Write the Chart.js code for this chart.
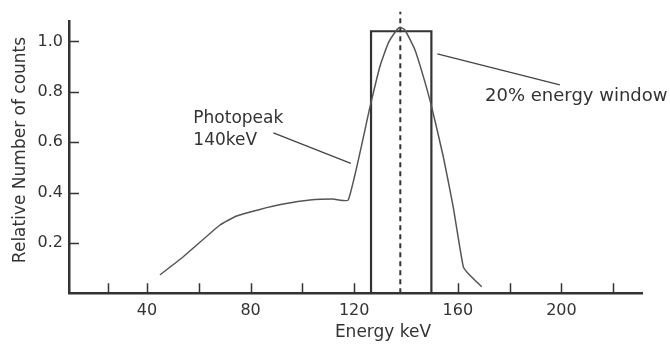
<!DOCTYPE html>
<html>
<head>
<meta charset="utf-8">
<script src="https://cdn.jsdelivr.net/npm/chart.js@4.4.1/dist/chart.umd.min.js"></script>
<style>
  html, body { margin: 0; padding: 0; background: #fff; }
  .wrap { position: relative; width: 670px; height: 347px; }
</style>
</head>
<body>
<div class="wrap">
  <canvas id="myChart"></canvas>
</div>
<script>
// spectrum (keV, relative counts)
const energies = [45, 54, 68.2, 74.6, 83.6, 92.6, 102.9, 111.9, 117.7, 126.1, 129.9, 133.1, 136.4, 137.7, 139.6, 143.5, 146.7, 149.9, 154.4, 158.2, 162.1, 164, 169.2];
const counts = [0.073, 0.145, 0.271, 0.307, 0.333, 0.354, 0.37, 0.374, 0.37, 0.74, 0.899, 0.992, 1.045, 1.056, 1.045, 0.965, 0.86, 0.74, 0.542, 0.344, 0.106, 0.079, 0.026];

// 20% energy window and photopeak marker
const windowEdges = [126.5, 149.8];
const windowTop = 1.04;
const peakEnergy = 137.8;
const peakLineTop = 1.117;

// axes
const xRange = [9.9, 231.3];
const yRange = [0, 1.078];
const xTickValues = [25, 40, 60, 80, 100, 120, 160, 180, 200, 220];
const xTickLabels = [40, 80, 120, 160, 200];
const yTickValues = [0.2, 0.4, 0.6, 0.8, 1.0];

// annotations: [keV, counts]
const photopeakText = ["Photopeak", "140keV"];
const photopeakTextAt = [57.9, 0.677];
const photopeakPointer = [[88.8, 0.637], [118.7, 0.516]];
const windowText = "20% energy window";
const windowTextAt = [170.5, 0.762];
const windowPointer = [[152.1, 0.95], [199.4, 0.827]];

const ink = "#333";
const font = "'DejaVu Sans', Verdana, sans-serif";

const curve = energies.map((e, i) => ({ x: e, y: counts[i] }));
const box = [
  { x: windowEdges[0], y: 0 },
  { x: windowEdges[0], y: windowTop },
  { x: windowEdges[1], y: windowTop },
  { x: windowEdges[1], y: 0 },
];
const peakLine = [
  { x: peakEnergy, y: 0 },
  { x: peakEnergy, y: peakLineTop },
];

// inward tick marks, axis titles and the callouts
const extras = {
  id: "extras",
  afterDraw(chart) {
    const { ctx, scales: { x, y } } = chart;
    ctx.save();
    ctx.strokeStyle = ink;
    ctx.lineWidth = 1.5;
    ctx.beginPath();
    xTickValues.forEach((v) => {
      const px = Math.round(x.getPixelForValue(v)) + 0.5;
      ctx.moveTo(px, y.bottom);
      ctx.lineTo(px, y.bottom - 10);
    });
    yTickValues.forEach((v) => {
      const py = Math.round(y.getPixelForValue(v)) + 0.5;
      ctx.moveTo(x.left, py);
      ctx.lineTo(x.left + 10, py);
    });
    ctx.stroke();

    // pointer lines
    ctx.strokeStyle = "#444";
    ctx.lineWidth = 1.3;
    [photopeakPointer, windowPointer].forEach((seg) => {
      ctx.beginPath();
      ctx.moveTo(x.getPixelForValue(seg[0][0]), y.getPixelForValue(seg[0][1]));
      ctx.lineTo(x.getPixelForValue(seg[1][0]), y.getPixelForValue(seg[1][1]));
      ctx.stroke();
    });

    ctx.fillStyle = ink;
    ctx.font = "17px " + font;
    ctx.textAlign = "left";
    ctx.textBaseline = "alphabetic";
    const px = x.getPixelForValue(photopeakTextAt[0]);
    const py = y.getPixelForValue(photopeakTextAt[1]);
    ctx.fillText(photopeakText[0], px, py);
    ctx.fillText(photopeakText[1], px, py + 22);
    ctx.font = "18px " + font;
    ctx.fillText(windowText, x.getPixelForValue(windowTextAt[0]), y.getPixelForValue(windowTextAt[1]));

    // axis titles
    ctx.font = "17px " + font;
    ctx.textAlign = "center";
    ctx.textBaseline = "middle";
    ctx.fillText("Energy keV", 383, 333);
    ctx.translate(21, 150);
    ctx.rotate(-Math.PI / 2);
    ctx.fillText("Relative Number of counts", 0, 0);
    ctx.restore();
  },
};

const ctx = document.getElementById("myChart").getContext("2d");

new Chart(ctx, {
  type: "line",
  data: {
    datasets: [
      {
        data: curve,
        borderColor: "#555",
        borderWidth: 1.5,
        pointRadius: 0,
        tension: 0.15,
        fill: false,
      },
      {
        data: box,
        borderColor: ink,
        borderWidth: 2.2,
        pointRadius: 0,
        tension: 0,
        fill: false,
      },
      {
        data: peakLine,
        borderColor: ink,
        borderWidth: 2,
        borderDash: [5, 4],
        pointRadius: 0,
        fill: false,
        clip: false,
      },
    ],
  },
  options: {
    responsive: true,
    maintainAspectRatio: false,
    animation: false,
    events: [],
    layout: {
      padding: { top: 21.7, right: 27.5, left: 0, bottom: 0 },
    },
    plugins: {
      legend: { display: false },
      tooltip: { enabled: false },
    },
    scales: {
      x: {
        type: "linear",
        min: xRange[0],
        max: xRange[1],
        afterBuildTicks: (scale) => {
          scale.ticks = xTickValues.map((v) => ({ value: v }));
        },
        afterFit: (scale) => {
          scale.height = 53.7;
        },
        grid: { display: false, drawTicks: false },
        border: { display: true, color: ink, width: 2.5 },
        ticks: {
          autoSkip: false,
          maxRotation: 0,
          padding: 8,
          color: ink,
          font: { family: font, size: 16 },
          callback: (v) => (xTickLabels.includes(v) ? String(v) : ""),
        },
      },
      y: {
        type: "linear",
        min: yRange[0],
        max: yRange[1],
        afterBuildTicks: (scale) => {
          scale.ticks = yTickValues.map((v) => ({ value: v }));
        },
        afterFit: (scale) => {
          scale.width = 69;
        },
        grid: { display: false, drawTicks: false },
        border: { display: true, color: ink, width: 2.5 },
        ticks: {
          autoSkip: false,
          padding: 6,
          color: ink,
          font: { family: font, size: 16 },
          callback: (v) => v.toFixed(1),
        },
      },
    },
  },
  plugins: [extras],
});
</script>
</body>
</html>
